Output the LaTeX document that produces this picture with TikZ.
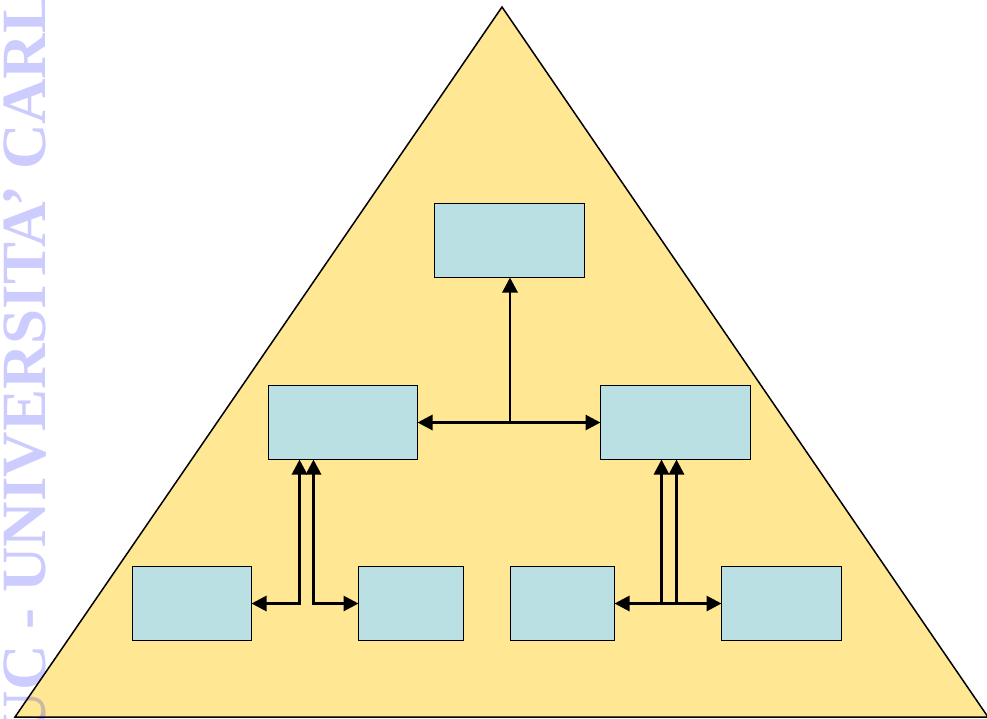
\documentclass[tikz,border=0pt]{standalone}
\usepackage{fontspec}
\setmainfont{Liberation Serif}
\usetikzlibrary{arrows.meta}
\definecolor{tri}{RGB}{255,231,148}
\definecolor{boxc}{RGB}{187,224,227}
\begin{document}
\begin{tikzpicture}[x=1pt,y=-1pt,
  blk/.style={draw=black, line width=1.8pt, fill=boxc, minimum height=74pt, inner sep=0pt, outer sep=0pt},
  conn/.style={line width=2.9pt, {Triangle[length=15pt,width=15pt]}-{Triangle[length=15pt,width=15pt]}},
  connup/.style={line width=2.9pt, -{Triangle[length=15pt,width=15pt]}},
  wm/.style={rotate=90, anchor=base west, inner sep=0pt, font=\bfseries\fontsize{63}{63}\selectfont, text=blue, text opacity=0.2}]
\useasboundingbox (0,0) rectangle (987,718);
\fill[white] (0,0) rectangle (987,718);
\draw[fill=tri, line width=1.5pt] (502,7) -- (988,717) -- (15,717) -- cycle;
\node[wm] (wmark) at (45,803) {LIUC - UNIVERSITA’ CARLO CATTANEO};
\node[blk, minimum width=150pt] (top) at (509.5,240.5) {};
\node[blk, minimum width=149pt] (ml) at (343,422.5) {};
\node[blk, minimum width=150pt] (mr) at (675.5,422.5) {};
\node[blk, minimum width=119pt] (b1) at (192,603.5) {};
\node[blk, minimum width=105pt] (b2) at (411,603.5) {};
\node[blk, minimum width=104pt] (b3) at (562.5,603.5) {};
\node[blk, minimum width=120pt] (b4) at (781.5,603.5) {};
\coordinate (j) at (510,422.5);
\draw[conn] (ml.east) -- (mr.west);
\draw[connup] (j) -- (j |- top.south);
\draw[conn] (b1.east) -| ([xshift=31pt]ml.south west);
\draw[conn] (b2.west) -| ([xshift=45pt]ml.south west);
\draw[conn] (b3.east) -| ([xshift=76pt]mr.south west);
\draw[conn] (b4.west) -| ([xshift=61pt]mr.south west);
\end{tikzpicture}
\end{document}
